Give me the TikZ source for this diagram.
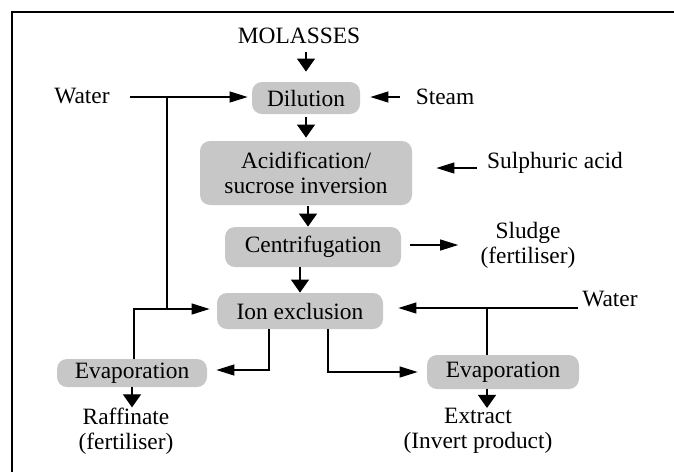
\documentclass[tikz,border=0pt]{standalone}
\usepackage{fontspec}
\setmainfont{Liberation Serif}
\usetikzlibrary{arrows.meta,calc}
\begin{document}
\begin{tikzpicture}[x=0.5pt,y=-0.5pt,
  lbl/.style={font=\fontsize{11.7}{12.5}\selectfont, inner sep=0pt, align=center},
  blob/.style={lbl, fill=black!22, rounded corners=5pt},
  flow/.style={line width=0.6pt},
  varr/.style={flow,-{Triangle[length=6.5pt,width=9pt]}},
  harr/.style={flow,-{Triangle[length=9pt,width=5.5pt]}}]
\useasboundingbox (0,0) rectangle (674,472);
\draw[flow] (674,12) -- (12,12) -- (12,472);
% process nodes
\node[lbl] (mol) at (299,36) {MOLASSES};
\node[blob, minimum width=54pt, minimum height=16pt] (dil) at (306,98) {Dilution};
\node[blob, minimum width=106pt, minimum height=32pt] (acid) at (306,173) {Acidification/\\sucrose inversion};
\node[blob, minimum width=88pt, minimum height=20pt] (cen) at (313,247) {Centrifugation};
\node[blob, minimum width=83pt, minimum height=18pt] (ion) at (300,311) {Ion exclusion};
\node[blob, minimum width=75pt, minimum height=14pt] (evl) at (132,373) {Evaporation};
\node[blob, minimum width=76pt, minimum height=17pt] (evr) at (503,372) {Evaporation};
% labels
\node[lbl] (wl) at (82,96) {Water};
\node[lbl] (steam) at (445,97) {Steam};
\node[lbl] (sulf) at (555,163) {Sulphuric acid};
\node[lbl] (sludge) at (528,245) {Sludge\\(fertiliser)};
\node[lbl] (wr) at (610,299) {Water};
\node[lbl] (raf) at (126,431) {Raffinate\\(fertiliser)};
\node[lbl] (ext) at (478,431) {Extract\\(Invert product)};
% junctions
\coordinate (jl) at (167,97);
\coordinate (jl2) at (167,309);
\coordinate (jl3) at (134,309);
\coordinate (jr) at (487,308);
% connectors
\draw[varr, shorten <=4pt, shorten >=5pt] (mol.south -| dil.north) -- (dil.north);
\draw[varr, shorten <=1.5pt, shorten >=1.5pt] (dil.south) -- (dil.south |- acid.north);
\draw[varr, shorten <=0.5pt] ([xshift=1pt]acid.south) -- ([xshift=1pt]acid.south |- cen.north);
\draw[varr] (ion.north |- cen.south) -- (ion.north);
\draw[harr, shorten <=10pt, shorten >=2pt] (wl.east |- jl) -- (dil.west |- jl);
\draw[flow] (jl) -- (jl2);
\draw[harr, shorten >=3.5pt] (evl.north -| jl3) -- (jl3) -- (ion.west |- jl3);
\draw[harr, shorten <=7.5pt, shorten >=5pt] (steam.west) -- (dil.east |- steam.west);
\draw[harr, shorten <=5pt, shorten >=12pt] ([yshift=-2.5pt]sulf.west) -- ([yshift=-2.5pt]sulf.west -| acid.east);
\draw[harr, shorten <=4.5pt, shorten >=11pt] ([yshift=1pt]cen.east) -- ([yshift=1pt]cen.east -| sludge.west);
\draw[harr, shorten <=2pt, shorten >=7.5pt] (wr.west |- jr) -- (ion.east |- jr);
\draw[flow] (jr) -- (evr.north -| jr);
\draw[harr, shorten >=4.5pt] ([xshift=-15.5pt]ion.south) |- ([yshift=1.5pt]evl.east);
\draw[harr, shorten >=4.5pt] ([xshift=14pt]ion.south) |- (evr.west);
\draw[varr] (evl.south) -- (evl.south |- raf.north);
\draw[varr] (jr |- evr.south) -- (jr |- ext.north);
\end{tikzpicture}
\end{document}
